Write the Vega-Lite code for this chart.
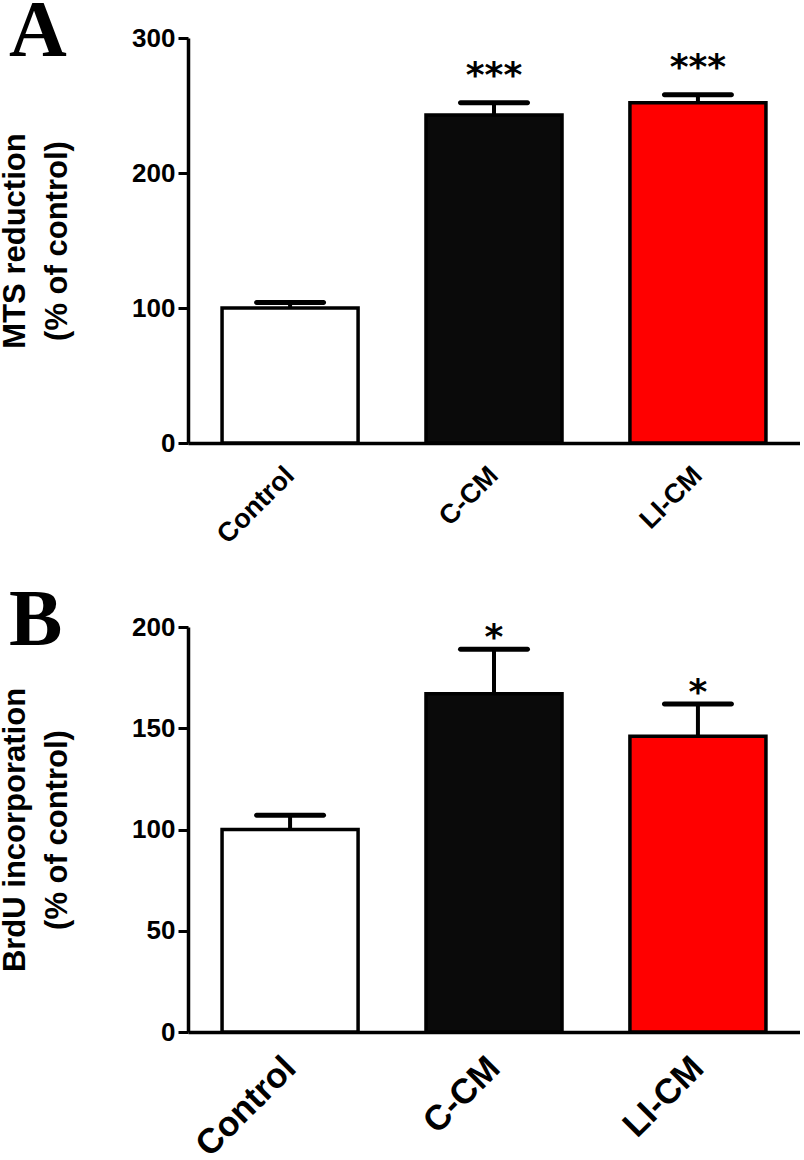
{
  "$schema": "https://vega.github.io/schema/vega-lite/v6.json",
  "background": "white",
  "padding": {"left": -1, "top": -8, "right": 0, "bottom": 0},
  "bounds": "flush",
  "spacing": 184,
  "config": {"view": {"stroke": null}},
  "datasets": {
    "mts": [
      {"group": "Control", "value": 100, "upper": 104, "sig": ""},
      {"group": "C-CM", "value": 243, "upper": 252, "sig": "***"},
      {"group": "LI-CM", "value": 252, "upper": 258, "sig": "***"}
    ],
    "brdu": [
      {"group": "Control", "value": 100, "upper": 107, "sig": ""},
      {"group": "C-CM", "value": 167, "upper": 189, "sig": "*"},
      {"group": "LI-CM", "value": 146, "upper": 162, "sig": "*"}
    ]
  },
  "vconcat": [
    {
      "width": 612,
      "height": 405,
      "title": {"text": "A", "anchor": "start", "frame": "group", "orient": "top", "font": "Liberation Serif", "fontSize": 80, "fontWeight": "bold", "color": "black", "dx": -179, "dy": 111, "offset": 0, "baseline": "alphabetic"},
      "data": {"name": "mts"},
      "encoding": {
        "x": {"field": "group", "type": "nominal", "sort": ["Control", "C-CM", "LI-CM"],
          "scale": {"paddingInner": 0.333, "paddingOuter": 0.167},
          "axis": {"title": null, "labelAngle": -45, "labelAlign": "right", "labelBaseline": "middle", "labelFont": "Liberation Sans", "labelFontSize": 27, "labelFontWeight": "bold", "labelColor": "black", "ticks": false, "labelPadding": 28, "domainColor": "black", "domainWidth": 3.5}}
      },
      "layer": [
        {"mark": {"type": "rule", "strokeWidth": 4, "color": "black", "opacity": 1},
          "encoding": {
            "y": {"field": "value", "type": "quantitative", "scale": {"domain": [0, 300]},
              "axis": {"values": [0, 100, 200, 300], "domainColor": "black", "domainWidth": 3.5, "tickColor": "black", "tickWidth": 3, "tickSize": 10, "labelFont": "Liberation Sans", "labelFontWeight": "bold", "labelFontSize": 26, "labelColor": "black", "labelPadding": 3, "grid": false, "title": ["MTS reduction", "(% of control)"], "titleFont": "Liberation Sans", "titleFontSize": 31, "titleFontWeight": "bold", "titleColor": "black", "titlePadding": 58, "titleLineHeight": 42}},
            "y2": {"field": "upper"}}},
        {"mark": {"type": "bar", "stroke": "black", "strokeWidth": 3.5, "opacity": 1},
          "encoding": {
            "y": {"field": "value", "type": "quantitative", "stack": null},
            "fill": {"field": "group", "type": "nominal", "scale": {"domain": ["Control", "C-CM", "LI-CM"], "range": ["#ffffff", "#0a0a0a", "#ff0000"]}, "legend": null}}},
        {"mark": {"type": "tick", "size": 72, "thickness": 5, "color": "black", "cornerRadius": 2.5, "opacity": 1},
          "encoding": {"y": {"field": "upper", "type": "quantitative"}}},
        {"mark": {"type": "text", "font": "DejaVu Sans", "fontWeight": "bold", "fontSize": 36, "baseline": "middle", "dy": -27, "color": "black"},
          "encoding": {"y": {"field": "upper", "type": "quantitative"}, "text": {"field": "sig"}}}
      ]
    },
    {
      "width": 612,
      "height": 405,
      "title": {"text": "B", "anchor": "start", "frame": "group", "orient": "top", "font": "Liberation Serif", "fontSize": 80, "fontWeight": "bold", "color": "black", "dx": -179, "dy": 111, "offset": 0, "baseline": "alphabetic"},
      "data": {"name": "brdu"},
      "encoding": {
        "x": {"field": "group", "type": "nominal", "sort": ["Control", "C-CM", "LI-CM"],
          "scale": {"paddingInner": 0.333, "paddingOuter": 0.167},
          "axis": {"title": null, "labelAngle": -45, "labelAlign": "right", "labelBaseline": "middle", "labelFont": "Liberation Sans", "labelFontSize": 35, "labelFontWeight": "bold", "labelColor": "black", "ticks": false, "labelPadding": 30, "domainColor": "black", "domainWidth": 3.5}}
      },
      "layer": [
        {"mark": {"type": "rule", "strokeWidth": 4, "color": "black", "opacity": 1},
          "encoding": {
            "y": {"field": "value", "type": "quantitative", "scale": {"domain": [0, 200]},
              "axis": {"values": [0, 50, 100, 150, 200], "domainColor": "black", "domainWidth": 3.5, "tickColor": "black", "tickWidth": 3, "tickSize": 10, "labelFont": "Liberation Sans", "labelFontWeight": "bold", "labelFontSize": 26, "labelColor": "black", "labelPadding": 3, "grid": false, "title": ["BrdU incorporation", "(% of control)"], "titleFont": "Liberation Sans", "titleFontSize": 31, "titleFontWeight": "bold", "titleColor": "black", "titlePadding": 58, "titleLineHeight": 42}},
            "y2": {"field": "upper"}}},
        {"mark": {"type": "bar", "stroke": "black", "strokeWidth": 3.5, "opacity": 1},
          "encoding": {
            "y": {"field": "value", "type": "quantitative", "stack": null},
            "fill": {"field": "group", "type": "nominal", "scale": {"domain": ["Control", "C-CM", "LI-CM"], "range": ["#ffffff", "#0a0a0a", "#ff0000"]}, "legend": null}}},
        {"mark": {"type": "tick", "size": 72, "thickness": 5, "color": "black", "cornerRadius": 2.5, "opacity": 1},
          "encoding": {"y": {"field": "upper", "type": "quantitative"}}},
        {"mark": {"type": "text", "font": "DejaVu Sans", "fontWeight": "bold", "fontSize": 36, "baseline": "middle", "dy": -11, "color": "black"},
          "encoding": {"y": {"field": "upper", "type": "quantitative"}, "text": {"field": "sig"}}}
      ]
    }
  ]
}
